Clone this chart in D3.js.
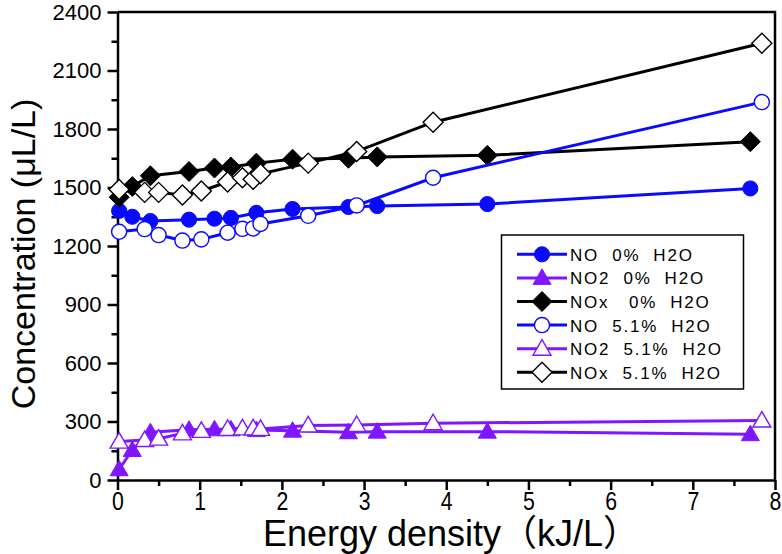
<!DOCTYPE html>
<html>
<head>
<meta charset="utf-8">
<script src="https://cdn.jsdelivr.net/npm/d3@7"></script>
<style>
  html, body { margin: 0; padding: 0; background: #fff; }
  svg { display: block; }
  text { font-family: "Liberation Sans", Arial, "Noto Sans CJK SC", sans-serif; }
</style>
</head>
<body>
<svg id="chart" width="782" height="554"></svg>
<script>
// ---- data ----
const xTicks = [0, 1, 2, 3, 4, 5, 6, 7, 8];
const yTicks = [0, 300, 600, 900, 1200, 1500, 1800, 2100, 2400];

const x0 = [0.02, 0.18, 0.40, 0.87, 1.18, 1.38, 1.69, 2.13, 2.81, 3.16, 4.50, 7.70];
const no0 = [1380, 1350, 1328, 1335, 1340, 1344, 1370, 1390, 1400, 1405, 1415, 1495];
const no2_0 = [55, 154, 245, 258, 260, 260, 256, 253, 245, 248, 248, 235];
const nox0 = [1450, 1505, 1560, 1582, 1600, 1605, 1625, 1645, 1650, 1657, 1665, 1735];

const x5 = [0.02, 0.33, 0.50, 0.79, 1.02, 1.34, 1.52, 1.65, 1.74, 2.32, 2.91, 3.84, 7.84];
const no5 = [1273, 1287, 1256, 1228, 1234, 1268, 1288, 1290, 1313, 1355, 1408, 1550, 1938];
const no2_5 = [197, 205, 212, 239, 252, 262, 265, 265, 262, 280, 282, 291, 305];
const nox5 = [1490, 1475, 1475, 1462, 1482, 1528, 1550, 1542, 1570, 1625, 1685, 1835, 2240];

const seriesNames = ["NO  0%  H2O", "NO2  0%  H2O", "NOx   0%  H2O", "NO  5.1%  H2O", "NO2  5.1%  H2O", "NOx  5.1%  H2O"];

// ---- styles ----
const BLUE = "#0a0aff", PURPLE = "#7f16ff", BLACK = "#000";
const series = [
  { name: seriesNames[0], xs: x0, ys: no0, color: BLUE, shape: "circle", filled: true },
  { name: seriesNames[1], xs: x0, ys: no2_0, color: PURPLE, shape: "triangle", filled: true },
  { name: seriesNames[2], xs: x0, ys: nox0, color: BLACK, shape: "diamond", filled: true },
  { name: seriesNames[3], xs: x5, ys: no5, color: BLUE, shape: "circle", filled: false },
  { name: seriesNames[4], xs: x5, ys: no2_5, color: PURPLE, shape: "triangle", filled: false },
  { name: seriesNames[5], xs: x5, ys: nox5, color: BLACK, shape: "diamond", filled: false },
];

const svg = d3.select("#chart");
const x = d3.scaleLinear().domain([0, 8]).range([117.5, 775]);
const y = d3.scaleLinear().domain([0, 2400]).range([480, 12]);

// frame (top and right)
svg.append("path")
  .attr("d", `M${x(0)},${y(2400)}H${x(8)}V${y(0)}`)
  .attr("fill", "none").attr("stroke", "#000").attr("stroke-width", 2.5);

// minor ticks
svg.append("g").attr("transform", `translate(0,${y(0)})`)
  .call(d3.axisBottom(x).tickValues(d3.range(0.5, 8, 1)).tickSize(6).tickSizeOuter(0).tickFormat(""))
  .call(g => g.select(".domain").remove())
  .call(g => g.selectAll("line").attr("stroke-width", 2.5));
svg.append("g").attr("transform", `translate(${x(0)},0)`)
  .call(d3.axisLeft(y).tickValues(d3.range(150, 2400, 300)).tickSize(6).tickSizeOuter(0).tickFormat(""))
  .call(g => g.select(".domain").remove())
  .call(g => g.selectAll("line").attr("stroke-width", 2.5));

// major axes
const gx = svg.append("g").attr("transform", `translate(0,${y(0)})`)
  .call(d3.axisBottom(x).tickValues(xTicks).tickSize(10).tickSizeOuter(0).tickPadding(2).tickFormat(d3.format("d")));
gx.select(".domain").attr("stroke-width", 2.5);
gx.selectAll("line").attr("stroke-width", 2.5);
gx.selectAll("text").attr("font-size", 25).attr("fill", "#000")
  .attr("font-family", "'Liberation Sans', Arial, sans-serif")
  .attr("transform", "scale(0.85,1)");

const gy = svg.append("g").attr("transform", `translate(${x(0)},0)`)
  .call(d3.axisLeft(y).tickValues(yTicks).tickSize(10).tickSizeOuter(0).tickPadding(6).tickFormat(d3.format("d")));
gy.select(".domain").attr("stroke-width", 2.5);
gy.selectAll("line").attr("stroke-width", 2.5);
gy.selectAll("text").attr("font-size", 22).attr("fill", "#000")
  .attr("font-family", "'Liberation Sans', Arial, sans-serif");

// axis titles
svg.append("text").attr("x", 451).attr("y", 546).attr("text-anchor", "middle")
  .attr("font-size", 36).attr("fill", "#000").text("Energy density（kJ/L）");
svg.append("text").attr("transform", "translate(35,254) rotate(-90)").attr("text-anchor", "middle")
  .attr("font-size", 34).attr("fill", "#000").text("Concentration (μL/L)");

// marker drawing
function symPath(shape) {
  if (shape === "diamond") return "M0,-10L10,0L0,10L-10,0Z";
  if (shape === "triangle") return "M0,-9L9,6.5L-9,6.5Z";
  return d3.symbol().type(d3.symbolCircle).size(180)();
}
function drawMarker(g, shape, filled, color, cx, cy) {
  g.append("path").attr("d", symPath(shape))
    .attr("transform", `translate(${cx},${cy})`)
    .attr("fill", filled ? color : "#fff")
    .attr("stroke", color)
    .attr("stroke-width", filled ? 1 : 1.4);
}

const line = d3.line().x(d => x(d[0])).y(d => y(d[1]));
const plot = svg.append("g");
series.forEach(s => {
  const pts = s.xs.map((v, i) => [v, s.ys[i]]);
  const g = plot.append("g");
  g.append("path").datum(pts).attr("d", line)
    .attr("fill", "none").attr("stroke", s.color).attr("stroke-width", 3);
  pts.forEach(p => drawMarker(g, s.shape, s.filled, s.color, x(p[0]), y(p[1])));
});

// legend
const lg = svg.append("g");
lg.append("rect").attr("x", 501.5).attr("y", 235).attr("width", 242).attr("height", 154)
  .attr("fill", "#fff").attr("stroke", "#000").attr("stroke-width", 1.5);
series.forEach((s, i) => {
  const cy = 254.3 + i * 23.6;
  lg.append("line").attr("x1", 517).attr("x2", 567).attr("y1", cy).attr("y2", cy)
    .attr("stroke", s.color).attr("stroke-width", 3);
  drawMarker(lg, s.shape, s.filled, s.color, 542, cy);
  lg.append("text").attr("x", 570).attr("y", cy + 6.5).attr("font-size", 17)
    .attr("letter-spacing", "1.8px").attr("fill", "#000")
    .style("white-space", "pre").text(s.name);
});
</script>
</body>
</html>
